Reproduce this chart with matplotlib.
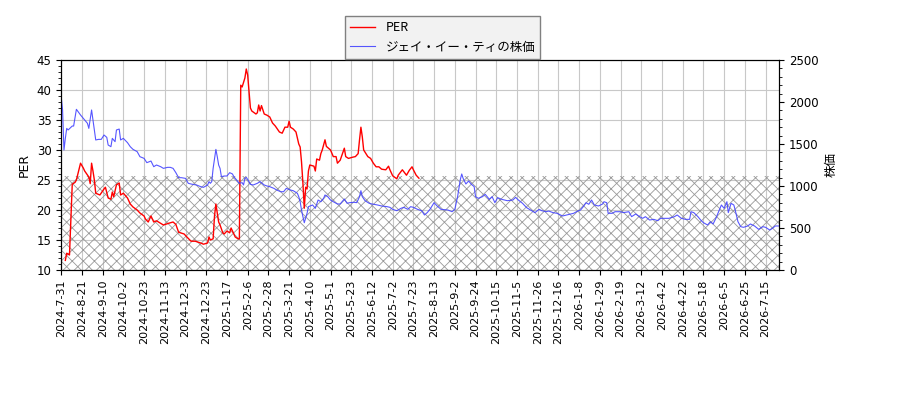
import matplotlib
matplotlib.use("Agg")
import matplotlib.pyplot as plt
from matplotlib.ticker import MultipleLocator, FixedLocator

plt.rcParams['font.family'] = ['DejaVu Sans', 'Noto Sans CJK JP']
plt.rcParams['hatch.linewidth'] = 0.6

# x-axis tick labels (every 15 trading days)
tick_labels = ["2024-7-31", "2024-8-21", "2024-9-10", "2024-10-2", "2024-10-23",
               "2024-11-13", "2024-12-3", "2024-12-23", "2025-1-17", "2025-2-6",
               "2025-2-28", "2025-3-21", "2025-4-10", "2025-5-1", "2025-5-23",
               "2025-6-12", "2025-7-2", "2025-7-23", "2025-8-13", "2025-9-2",
               "2025-9-24", "2025-10-15", "2025-11-5", "2025-11-26", "2025-12-16",
               "2026-1-8", "2026-1-29", "2026-2-19", "2026-3-12", "2026-4-2",
               "2026-4-22", "2026-5-18", "2026-6-5", "2026-6-25", "2026-7-15"]
tick_step = 15
n_days = 520

# PER series (trading-day index, value)
per_day = [3, 4, 6, 7, 8, 10, 11, 14, 16, 17, 20, 21, 22, 23, 24, 25, 28, 31, 32, 34,
           36, 37, 38, 40, 42, 43, 45, 48, 50, 52, 55, 57, 60, 61, 63, 65, 67, 69, 74, 78,
           81, 83, 85, 89, 91, 94, 97, 101, 103, 106, 107, 108, 110, 111, 112, 113, 114, 115, 117, 118,
           120, 122, 123, 124, 126, 128, 129, 130, 131, 133, 134, 135, 137, 138, 141, 142,
           143, 144, 145, 147, 149, 151, 153, 155, 158, 160, 162, 164, 165, 166, 168, 170,
           172, 173, 174, 175, 176, 177, 178, 179, 180, 183, 184, 185, 187, 188, 189, 191,
           192, 195, 197, 199, 200, 202, 205, 206, 208, 211, 213, 215, 216, 217, 218, 219,
           222, 224, 226, 228, 230, 232, 235, 237, 238, 240, 243, 244, 247, 248, 250, 252,
           254, 255, 257, 259]
per_val = [11.6, 12.8, 12.5, 18.5, 24.3, 24.6, 25.0, 27.8, 27.0, 26.5, 25.5, 24.4, 27.8, 26.5, 25.0, 22.8, 22.5, 23.5, 23.8, 22.0,
           21.8, 23.0, 22.2, 24.2, 24.5, 22.5, 22.8, 22.0, 21.0, 20.5, 20.0, 19.5, 19.0, 18.5, 18.0, 19.0, 18.0, 18.2, 17.5, 17.8,
           18.0, 17.6, 16.3, 16.0, 15.5, 14.8, 14.8, 14.5, 14.3, 14.5, 15.5, 15.0, 15.2, 19.0, 21.0, 19.5, 18.0, 17.5, 16.2, 16.0,
           16.5, 16.2, 17.0, 16.5, 15.5, 15.2, 15.2, 40.8, 40.5, 42.0, 43.5, 42.5, 37.0, 36.5, 36.0, 36.2,
           37.5, 36.5, 37.4, 36.0, 35.8, 35.5, 34.5, 34.0, 33.0, 32.8, 33.8, 33.8, 34.8, 33.8, 33.5, 33.0,
           31.0, 30.5, 28.0, 24.5, 20.3, 23.8, 23.5, 26.5, 27.5, 27.3, 26.5, 28.5, 28.3, 29.4, 30.0, 31.7,
           30.6, 30.0, 28.9, 28.9, 27.8, 28.3, 30.3, 28.9, 28.6, 28.8, 28.9, 29.4, 31.7, 33.8, 32.2, 30.0,
           28.9, 28.6, 27.8, 27.2, 27.2, 26.8, 26.7, 27.3, 26.7, 25.7, 25.2, 25.8, 26.7, 26.4, 25.8, 26.6,
           27.2, 26.7, 25.8, 25.3]

# Share price series (trading-day index, value)
price_day = [0, 1, 2, 3, 4, 5, 8, 9, 11, 14, 16, 19, 20, 22, 23, 25, 27, 29, 31, 33,
             34, 36, 37, 39, 40, 42, 43, 45, 48, 50, 52, 55, 57, 60, 62, 65, 67, 69, 72, 74,
             77, 79, 81, 83, 85, 87, 90, 92, 95, 98, 101, 103, 106, 107, 108, 109, 110, 112, 113, 114,
             115, 116, 118, 120, 122, 124, 125, 127, 129, 131, 132, 133, 134, 136, 137, 139,
             142, 144, 147, 149, 151, 154, 156, 159, 161, 163, 166, 168, 171, 172, 173, 174,
             175, 176, 178, 179, 182, 184, 186, 188, 190, 191, 193, 195, 197, 200, 202, 205,
             207, 209, 212, 214, 216, 217, 218, 220, 223, 225, 229, 232, 236, 238, 240, 243,
             246, 248, 251, 253, 255, 258, 261, 263, 265, 267, 270, 272, 275, 280, 283, 285,
             287, 289, 290, 291, 293, 295, 297, 299, 300, 302, 305, 307, 310, 312, 314, 316,
             319, 323, 327, 329, 331, 334, 337, 341, 343, 346, 348, 351, 353, 356, 359, 363,
             366, 369, 371, 374, 376, 378, 380, 382, 384, 386, 389, 392, 393, 395, 396, 399,
             401, 405, 407, 411, 413, 416, 418, 421, 423, 426, 429, 432, 434, 437, 440, 444,
             446, 449, 452, 455, 456, 458, 461, 463, 465, 468, 470, 472, 474, 476, 478, 480,
             482, 483, 485, 487, 488, 490, 492, 494, 497, 499, 502, 505, 508, 510, 513, 515,
             517, 520]
price_val = [2063, 1905, 1428, 1567, 1686, 1667, 1714, 1714, 1913, 1845, 1805, 1746, 1686, 1905, 1786, 1548, 1555, 1555, 1607, 1579,
             1488, 1468, 1567, 1528, 1667, 1678, 1548, 1567, 1516, 1468, 1436, 1409, 1349, 1329, 1278, 1297, 1230, 1250, 1230, 1210,
             1222, 1222, 1210, 1159, 1099, 1099, 1091, 1032, 1020, 1012, 992, 984, 1012, 1052, 1032, 1052, 1210, 1436, 1349, 1250,
             1210, 1111, 1119, 1119, 1159, 1143, 1111, 1071, 1032, 1040, 1012, 1091, 1103, 1052, 1020, 1012,
             1032, 1052, 1012, 1000, 992, 972, 952, 932, 932, 972, 952, 944, 913, 873, 813, 714,
             635, 563, 674, 754, 774, 734, 833, 813, 853, 893, 873, 833, 813, 786, 786, 845,
             794, 802, 806, 802, 873, 944, 873, 825, 794, 786, 774, 762, 754, 746, 722, 706,
             734, 746, 722, 754, 746, 722, 706, 655, 683, 722, 802, 765, 722, 714, 694, 722,
             873, 1079, 1143, 1091, 1024, 1059, 1020, 992, 873, 853, 873, 901, 841, 873, 802, 861,
             841, 825, 833, 865, 833, 794, 742, 702, 683, 722, 706, 694, 702, 683, 675, 643,
             655, 667, 675, 702, 714, 754, 801, 782, 833, 774, 762, 786, 813, 801, 675, 675,
             694, 694, 683, 694, 635, 667, 643, 615, 635, 595, 603, 587, 615, 615, 615, 635,
             655, 615, 603, 603, 694, 683, 635, 595, 563, 536, 575, 548, 615, 694, 774, 734,
             813, 683, 794, 774, 714, 575, 516, 508, 524, 548, 524, 484, 516, 508, 476, 496,
             524, 524]

band_low, band_high = 10, 25.6

fig = plt.figure(figsize=(9, 4), dpi=100)
ax = fig.add_axes([0.068, 0.325, 0.798, 0.525])
ax2 = ax.twinx()

ax.axhspan(band_low, band_high, facecolor='none', edgecolor='#999999',
           hatch='xxx', linewidth=0, zorder=1)
l1, = ax.plot(per_day, per_val, color='red', linewidth=1.0, zorder=3, label='PER')
l2, = ax2.plot(price_day, price_val, color='#4444ff', linewidth=0.8, alpha=0.9,
               label='ジェイ・イー・ティの株価')

ax.set_xlim(0, n_days)
ax.set_ylim(10, 45)
ax2.set_ylim(0, 2500)

ticks = [i * tick_step for i in range(len(tick_labels))]
ax.xaxis.set_major_locator(FixedLocator(ticks))
ax.set_xticklabels(tick_labels, rotation=90, fontsize=8)
ax.yaxis.set_major_locator(MultipleLocator(5))
ax.yaxis.set_minor_locator(MultipleLocator(1))
ax2.yaxis.set_major_locator(MultipleLocator(500))
ax2.yaxis.set_minor_locator(MultipleLocator(100))
ax.tick_params(axis='y', labelsize=8.5)
ax2.tick_params(axis='y', labelsize=8.5)

ax.grid(True, which='major', color='#c8c8c8', linewidth=0.8)
ax.set_axisbelow(True)

ax.set_ylabel('PER', fontsize=9)
ax2.set_ylabel('株価', fontsize=9, family=['Noto Sans CJK JP', 'DejaVu Sans'])

leg = fig.legend(handles=[l1, l2], loc='upper center', bbox_to_anchor=(0.492, 0.975),
                 prop={'family': ['Noto Sans CJK JP', 'DejaVu Sans'], 'size': 9},
                 frameon=True, fancybox=False, edgecolor='#808080', facecolor='#f2f2f2',
                 framealpha=1.0)

fig.savefig('out.png', dpi=100)
